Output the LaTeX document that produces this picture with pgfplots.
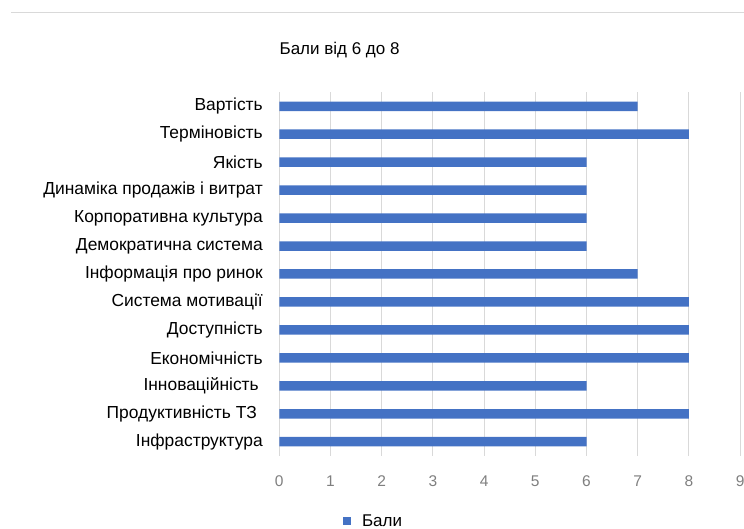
\documentclass[border=0pt]{standalone}
\usepackage{pgfplots}
\pgfplotsset{compat=1.18}
\usepackage{pgfplotstable}
\usepackage{fontspec}
\setmainfont{Liberation Sans}

\definecolor{barblue}{HTML}{4472C4}
\definecolor{gridgray}{HTML}{D9D9D9}
\definecolor{tickgray}{HTML}{7F7F7F}

% criterion index, score (0 = top row)
\pgfplotstableread{
idx score
0  7
1  8
2  6
3  6
4  6
5  6
6  7
7  8
8  8
9  8
10 6
11 8
12 6
}\scores

\begin{document}
\begin{tikzpicture}[x=1pt,y=1pt]
\clip (0,0) rectangle (744,529);
\useasboundingbox (0,0) rectangle (744,529);
% thin rule across the top of the sheet
\draw[gridgray, line width=1.6pt] (11,516.5) -- (744,516.5);
\begin{axis}[
  at={(279.3pt,73.3pt)}, anchor=south west,
  scale only axis,
  width=460.8pt, height=363.4pt,
  xbar, bar width=9.5pt,
  xmin=0, xmax=9,
  ymin=-0.5, ymax=12.5,
  y dir=reverse,
  axis line style={draw=none},
  xtick={0,1,...,9},
  ytick={0,1,...,12},
  yticklabels={
    Вартість,
    Терміновість,
    Якість,
    Динаміка продажів і витрат,
    Корпоративна культура,
    Демократична система,
    Інформація про ринок,
    Система мотивації,
    Доступність,
    Економічність,
    Інноваційність\hspace*{4pt},
    Продуктивність ТЗ\hspace*{6pt},
    Інфраструктура},
  major tick length=0pt,
  xmajorgrids,
  grid style={gridgray, line width=0.9pt},
  /pgf/number format/assume math mode=true,
  xticklabel style={font=\fontsize{15.5}{18}\selectfont, text=tickgray,
                    anchor=base, yshift=-31pt},
  yticklabel style={font=\fontsize{17.4}{20}\selectfont, text=black, xshift=-13pt},
  title={Бали від 6 до 8},
  title style={font=\fontsize{17}{20}\selectfont, anchor=west,
               at={(axis description cs:-0.007,1.099)}},
  legend style={draw=none, fill=none, font=\fontsize{17}{20}\selectfont,
                at={(axis description cs:0.138,-0.181)}, anchor=west,
                inner sep=0pt, /tikz/every even column/.style={column sep=0pt}},
  legend image code/.code={\fill[barblue] (0pt,-4pt) rectangle (8pt,4pt);},
  legend cell align=left,
]
\addplot[fill=barblue, draw=none] table[x=score, y=idx] {\scores};
\addlegendentry{\hspace*{9pt}Бали}
\end{axis}
\end{tikzpicture}
\end{document}
